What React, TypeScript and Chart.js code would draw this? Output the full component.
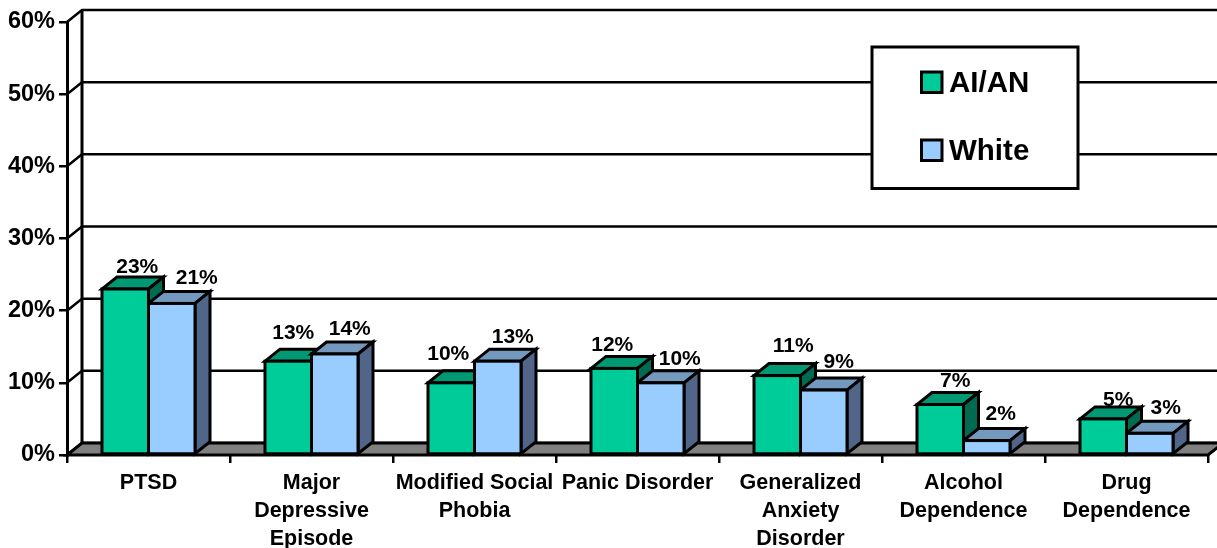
import React, { useEffect, useRef } from "react";
import { Chart, registerables } from "chart.js";

Chart.register(...registerables);

const categories = [
  "PTSD",
  ["Major", "Depressive", "Episode"],
  ["Modified Social", "Phobia"],
  "Panic Disorder",
  ["Generalized", "Anxiety", "Disorder"],
  ["Alcohol", "Dependence"],
  ["Drug", "Dependence"],
];
const aian = [23, 13, 10, 12, 11, 7, 5];
const white = [21, 14, 13, 10, 9, 2, 3];
const yTicks = [0, 10, 20, 30, 40, 50, 60];

// hand placement of the value labels, relative to each bar's top centre
const aianNudge = [[12, -22], [5, -28], [-3, -29], [-2, -23], [16, -29], [15, -23], [15, -19]];
const whiteNudge = [[25, -25], [15, -25], [15, -24], [19, -24], [15, -28], [14, -26], [16, -25]];

const DX = 15;
const DY = 12;
const LINE = 3;
const FONT = '"Liberation Sans", Arial, sans-serif';
const faces = [
  { front: "#00CC99", top: "#009973", side: "#006B50" },
  { front: "#99CCFF", top: "#7399BF", side: "#506587" },
];

function poly(ctx: CanvasRenderingContext2D, pts: number[][], fill?: string) {
  ctx.beginPath();
  pts.forEach((p, i) => (i ? ctx.lineTo(p[0], p[1]) : ctx.moveTo(p[0], p[1])));
  ctx.closePath();
  if (fill) {
    ctx.fillStyle = fill;
    ctx.fill();
  }
  ctx.stroke();
}

const pseudo3d = {
  id: "pseudo3d",
  beforeDatasetsDraw(chart: any) {
    const { ctx, chartArea: a, scales } = chart;
    const y = scales.y;
    const zero = y.getPixelForValue(0);
    ctx.save();
    ctx.strokeStyle = "#000";
    ctx.lineWidth = LINE;
    ctx.lineJoin = "miter";

    // back wall: gridlines and diagonals
    yTicks.forEach((v) => {
      const py = y.getPixelForValue(v);
      ctx.lineWidth = 2.5;
      ctx.beginPath();
      ctx.moveTo(a.left, py);
      ctx.lineTo(a.left + DX, py - DY);
      ctx.lineTo(a.right + DX, py - DY);
      ctx.stroke();
    });
    ctx.lineWidth = LINE;
    ctx.beginPath();
    ctx.moveTo(a.left + DX, a.top - DY);
    ctx.lineTo(a.left + DX, zero - DY);
    ctx.stroke();

    // floor
    poly(ctx, [
      [a.left, zero],
      [a.right, zero],
      [a.right + DX, zero - DY],
      [a.left + DX, zero - DY],
    ], "#808080");

    // value labels sit behind the bars
    ctx.fillStyle = "#000";
    ctx.font = `bold 21px ${FONT}`;
    ctx.textAlign = "center";
    ctx.textBaseline = "middle";
    [aianNudge, whiteNudge].forEach((nudge, d) => {
      const meta = chart.getDatasetMeta(d);
      meta.data.forEach((bar: any, i: number) => {
        const value = chart.data.datasets[d].data[i];
        ctx.fillText(`${value}%`, bar.x + nudge[i][0], bar.y + nudge[i][1]);
      });
    });

    // top and side faces
    for (let i = 0; i < categories.length; i++) {
      [0, 1].forEach((d) => {
        const bar = chart.getDatasetMeta(d).data[i] as any;
        const l = bar.x - bar.width / 2;
        const r = bar.x + bar.width / 2;
        const t = bar.y;
        const b = bar.base;
        poly(ctx, [[l, t], [r, t], [r + DX, t - DY], [l + DX, t - DY]], faces[d].top);
        poly(ctx, [[r, t], [r + DX, t - DY], [r + DX, b - DY], [r, b]], faces[d].side);
      });
    }
    ctx.restore();
  },
  afterDatasetsDraw(chart: any) {
    const { ctx } = chart;
    ctx.save();
    ctx.strokeStyle = "#000";
    ctx.lineWidth = LINE;
    [0, 1].forEach((d) => {
      chart.getDatasetMeta(d).data.forEach((bar: any) => {
        ctx.strokeRect(bar.x - bar.width / 2, bar.y, bar.width, bar.base - bar.y);
      });
    });
    ctx.restore();
  },
  afterDraw(chart: any) {
    const { ctx } = chart;
    ctx.save();
    ctx.strokeStyle = "#000";
    ctx.lineWidth = LINE;
    ctx.fillStyle = "#fff";
    ctx.fillRect(872, 47, 206, 141.5);
    ctx.strokeRect(872, 47, 206, 141.5);
    ctx.font = `bold 29.5px ${FONT}`;
    ctx.textBaseline = "middle";
    ctx.textAlign = "left";
    chart.data.datasets.forEach((ds: any, d: number) => {
      const cy = 82 + d * 68;
      ctx.fillStyle = ds.backgroundColor;
      ctx.fillRect(921.5, cy - 10, 20.5, 20.5);
      ctx.strokeRect(921.5, cy - 10, 20.5, 20.5);
      ctx.fillStyle = "#000";
      ctx.fillText(ds.label, 949, cy + 2);
    });
    ctx.restore();
  },
};

export default function App() {
  const ref = useRef<HTMLCanvasElement | null>(null);
  useEffect(() => {
    const chart = new Chart(ref.current as HTMLCanvasElement, {
      type: "bar",
      data: {
        labels: categories as any,
        datasets: [
          { label: "AI/AN", data: aian, backgroundColor: faces[0].front, borderWidth: 0 },
          { label: "White", data: white, backgroundColor: faces[1].front, borderWidth: 0 },
        ],
      },
      plugins: [pseudo3d as any],
      options: {
        responsive: false,
        animation: false,
        devicePixelRatio: 1,
        layout: { padding: { top: 22, right: 9, left: 0, bottom: 0 } },
        datasets: { bar: { categoryPercentage: 0.5706, barPercentage: 1 } },
        plugins: { legend: { display: false }, tooltip: { enabled: false }, title: { display: false } },
        scales: {
          x: {
            afterFit: (s: any) => { s.height = 93; },
            border: { display: false },
            grid: { drawOnChartArea: false, drawTicks: true, tickLength: 8, color: "#000", lineWidth: 2.5 },
            ticks: {
              autoSkip: false,
              maxRotation: 0,
              minRotation: 0,
              padding: 6,
              color: "#000",
              font: { family: FONT, size: 21.5, weight: "bold", lineHeight: 1.3 },
            },
          },
          y: {
            min: 0,
            max: 60,
            afterFit: (s: any) => { s.width = 67; },
            border: { display: true, color: "#000", width: 3 },
            grid: { drawOnChartArea: false, drawTicks: true, tickLength: 8, color: "#000", lineWidth: 2.5 },
            ticks: {
              stepSize: 10,
              padding: 4,
              color: "#000",
              font: { family: FONT, size: 23.5, weight: "bold" },
              callback: (v: any) => `${v}%`,
            },
          },
        },
      } as any,
    });
    return () => chart.destroy();
  }, []);
  return (
    <canvas
      ref={ref}
      width={1217}
      height={548}
      style={{ position: "absolute", left: 0, top: 0, display: "block" }}
    />
  );
}
